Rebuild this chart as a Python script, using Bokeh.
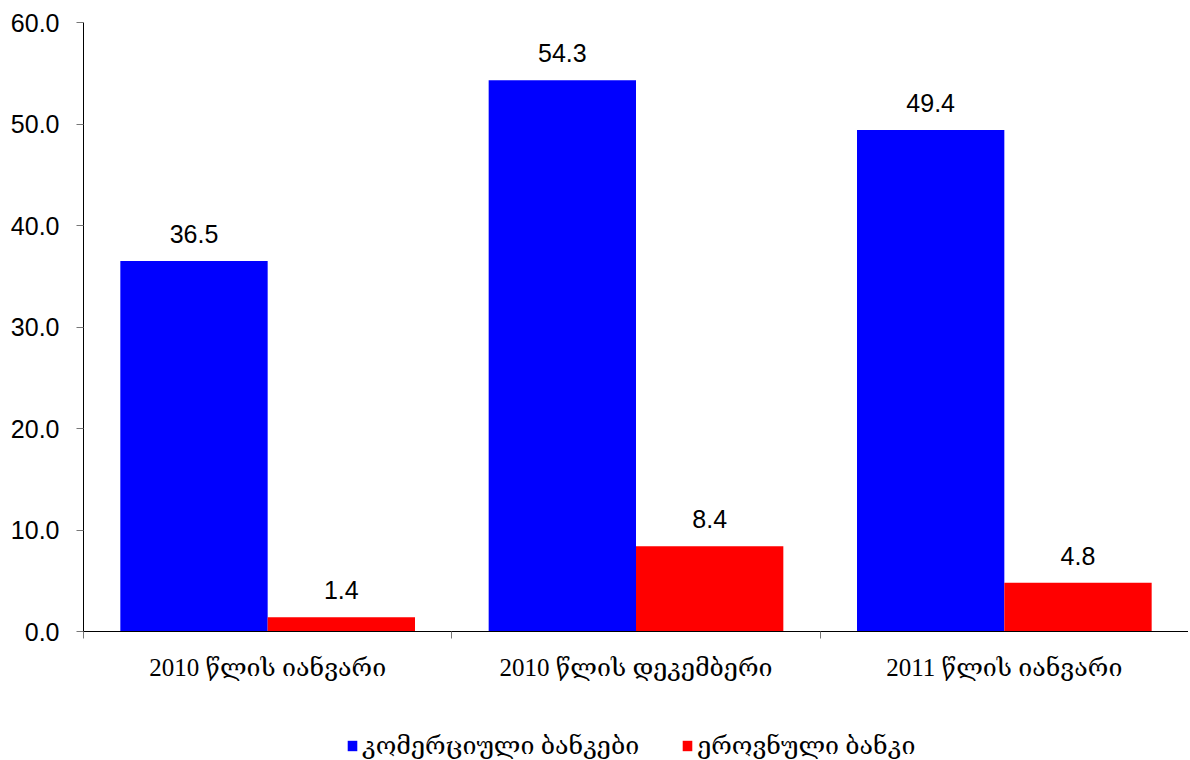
from bokeh.plotting import figure
from bokeh.layouts import column
from bokeh.models import ColumnDataSource, FixedTicker, Legend, LegendItem, Range1d, NumeralTickFormatter
from bokeh.embed import file_html
from bokeh.resources import INLINE
from bokeh.core.properties import value

categories = ["2010 წლის იანვარი", "2010 წლის დეკემბერი", "2011 წლის იანვარი"]
commercial = [36.5, 54.3, 49.4]
national = [1.4, 8.4, 4.8]
series_names = ["კომერციული ბანკები", "ეროვნული ბანკი"]
series_colors = ["#0000FF", "#FF0000"]
y_ticks = [0, 10, 20, 30, 40, 50, 60]

GEO_FONT = "Liberation Serif, DejaVu Serif, serif"
NUM_FONT = "Liberation Sans, Arial, sans-serif"

n = len(categories)
centers = [i + 0.5 for i in range(n)]
x_blue = [i + 0.3 for i in range(n)]
x_red = [i + 0.7 for i in range(n)]

p = figure(frame_width=1105, frame_height=609, output_backend="svg", toolbar_location=None,
           x_range=Range1d(0, n), y_range=Range1d(0, 60),
           min_border_left=83, min_border_right=0, min_border_top=22, min_border_bottom=70)
p.outline_line_color = None
p.xgrid.visible = False
p.ygrid.visible = False

src_b = ColumnDataSource(dict(x=x_blue, top=commercial, lbl=["%.1f" % v for v in commercial]))
src_r = ColumnDataSource(dict(x=x_red, top=national, lbl=["%.1f" % v for v in national]))

p.vbar(x="x", top="top", width=0.4, bottom=0, source=src_b, fill_color=series_colors[0], line_color=None)
p.vbar(x="x", top="top", width=0.4, bottom=0, source=src_r, fill_color=series_colors[1], line_color=None)

for src in (src_b, src_r):
    p.text(x="x", y="top", text="lbl", source=src, text_align="center", text_baseline="bottom",
           y_offset=-18, text_font=value(NUM_FONT), text_font_size="25px", text_color="#000000")

# y axis
p.yaxis.ticker = FixedTicker(ticks=y_ticks)
p.yaxis.formatter = NumeralTickFormatter(format="0.0")
p.yaxis.major_label_text_font = NUM_FONT
p.yaxis.major_label_text_font_size = "25px"
p.yaxis.major_label_text_color = "#000000"
p.yaxis.axis_line_color = "#000000"
p.yaxis.major_tick_line_color = "#777777"
p.yaxis.major_tick_out = 7
p.yaxis.major_tick_in = 0
p.yaxis.minor_tick_line_color = None
p.yaxis.major_label_standoff = 17

# x axis
p.xaxis.ticker = FixedTicker(ticks=centers, minor_ticks=[float(i) for i in range(n + 1)])
p.xaxis.major_label_overrides = {c: lab for c, lab in zip(centers, categories)}
p.xaxis.major_label_text_font = GEO_FONT
p.xaxis.major_label_text_font_size = "25px"
p.xaxis.major_label_text_color = "#000000"
p.xaxis.axis_line_color = "#000000"
p.xaxis.major_tick_line_color = None
p.xaxis.major_tick_out = 0
p.xaxis.major_tick_in = 0
p.xaxis.minor_tick_line_color = "#777777"
p.xaxis.minor_tick_out = 7
p.xaxis.minor_tick_in = 0
p.xaxis.major_label_standoff = 15

# legend strip below the chart (swatch renderers sit outside the visible range)
lg = figure(frame_width=1188, frame_height=59, output_backend="svg", toolbar_location=None,
            x_range=Range1d(0, 1), y_range=Range1d(0, 1),
            min_border_left=0, min_border_right=0, min_border_top=0, min_border_bottom=0)
lg.axis.visible = False
lg.xgrid.visible = False
lg.ygrid.visible = False
lg.outline_line_color = None
items = []
for name, col in zip(series_names, series_colors):
    r = lg.vbar(x=[-5], top=[-4], bottom=[-5], width=0.4, fill_color=col, line_color=None)
    items.append(LegendItem(label=name, renderers=[r]))

legend = Legend(items=items, orientation="horizontal", location=(346, 0),
                border_line_color=None, background_fill_alpha=0,
                glyph_width=12, glyph_height=13, label_standoff=4, spacing=42,
                label_text_font=GEO_FONT, label_text_font_size="25px", label_text_color="#000000",
                margin=0, padding=0)
lg.add_layout(legend, "center")

open("out.html", "w").write(file_html(column(p, lg), INLINE))
